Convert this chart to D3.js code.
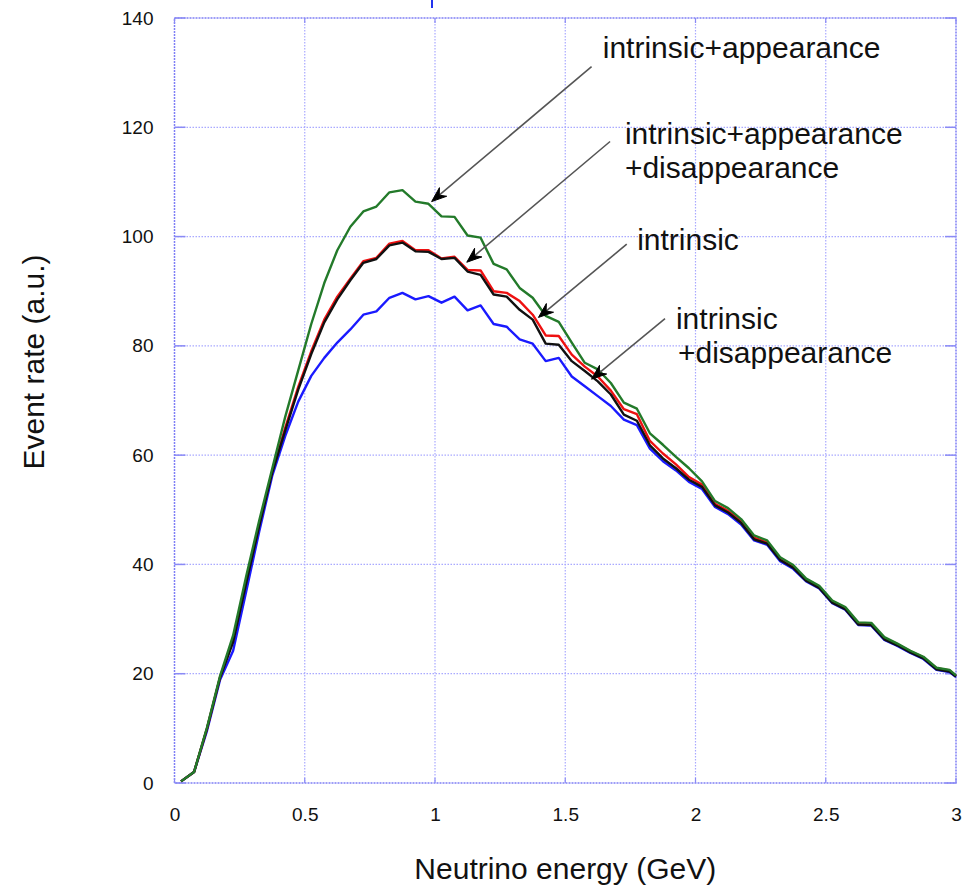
<!DOCTYPE html>
<html><head><meta charset="utf-8">
<script src="https://cdn.jsdelivr.net/npm/d3@7/dist/d3.min.js"></script>
<style>body{margin:0;background:#fff}svg{display:block}text{font-family:"Liberation Sans",Arial,Helvetica,sans-serif}</style>
</head><body><svg id="chart" width="972" height="890"></svg>
<script>
// ---- data ----
const energy = [0.025,0.075,0.125,0.175,0.225,0.275,0.325,0.375,0.425,0.475,
  0.525,0.575,0.625,0.675,0.725,0.775,0.825,0.875,0.925,0.975,
  1.025,1.075,1.125,1.175,1.225,1.275,1.325,1.375,1.425,1.475,
  1.525,1.575,1.625,1.675,1.725,1.775,1.825,1.875,1.925,1.975,
  2.025,2.075,2.125,2.175,2.225,2.275,2.325,2.375,2.425,2.475,
  2.525,2.575,2.625,2.675,2.725,2.775,2.825,2.875,2.925,2.975,3.0];
const intrinsic = [0.3,2.0,10.0,19.3,25.8,36.5,47.0,56.8,64.5,72.0,
  78.5,84.3,88.5,92.0,95.2,95.9,98.4,98.9,97.3,97.2,
  95.9,96.1,93.6,93.0,89.4,89.0,86.6,84.8,80.4,80.2,
  77.2,75.4,73.5,71.1,67.4,66.3,61.8,59.4,57.6,55.5,
  54.2,50.8,49.5,47.6,44.6,43.8,40.8,39.4,37.0,35.7,
  33.0,31.8,29.0,28.9,26.3,25.2,23.9,22.8,20.8,20.4,19.5];
const intrinsicAppearance = [0.3,2.0,10.2,19.6,27.0,37.8,48.0,57.5,67.0,75.5,
  84.0,91.5,97.5,101.8,104.6,105.5,108.1,108.5,106.4,106.0,
  103.7,103.6,100.2,99.8,95.0,94.0,90.6,88.8,85.5,84.4,
  80.6,76.9,75.7,73.2,69.6,68.5,64.0,61.9,59.7,57.6,
  55.2,51.6,50.3,48.3,45.3,44.4,41.3,39.9,37.4,36.1,
  33.4,32.2,29.4,29.3,26.7,25.5,24.2,23.1,21.1,20.7,19.7];
const intrinsicAppDisapp = [0.3,2.0,10.0,19.4,26.2,37.0,47.3,57.0,65.0,72.5,
  79.0,84.8,89.0,92.3,95.5,96.1,98.7,99.2,97.5,97.5,
  96.0,96.3,93.9,93.8,90.0,89.7,88.2,85.7,81.9,81.8,
  78.4,76.2,74.4,71.8,68.4,67.5,62.6,60.3,58.3,56.0,
  54.6,51.1,49.8,47.9,44.9,44.0,41.0,39.6,37.2,35.9,
  33.2,32.0,29.2,29.1,26.5,25.4,24.1,23.0,21.0,20.6,19.6];
const intrinsicDisapp = [0.3,2.0,9.6,18.9,24.2,35.0,46.0,56.2,63.5,69.8,
  74.5,77.8,80.6,83.0,85.7,86.3,88.8,89.7,88.5,89.1,
  87.9,89.0,86.5,87.4,84.0,83.5,81.2,80.4,77.2,77.8,
  74.4,72.6,70.8,69.0,66.5,65.5,61.2,58.9,57.2,55.1,
  53.8,50.5,49.2,47.3,44.4,43.6,40.6,39.2,36.9,35.6,
  32.9,31.7,28.9,28.8,26.2,25.1,23.8,22.7,20.7,20.3,19.4];
const xTicks = [0,0.5,1,1.5,2,2.5,3];
const xTickLabels = ["0","0.5","1","1.5","2","2.5","3"];
const yTicks = [0,20,40,60,80,100,120,140];
const seriesNames = ["intrinsic+disappearance","intrinsic+appearance+disappearance","intrinsic","intrinsic+appearance"];
const seriesValues = [intrinsicDisapp, intrinsicAppDisapp, intrinsic, intrinsicAppearance];
const seriesColors = ["#1a1aff","#ee1111","#111111","#237a2a"];
// annotations: label lines, arrow tail and tip in data units
const annLines = [["intrinsic+appearance"],["intrinsic+appearance","+disappearance"],["intrinsic"],["intrinsic","+disappearance"]];
const annTail = [[1.601,131.1],[1.672,117.4],[1.736,98.6],[1.883,85.0]];
const annTip = [[0.987,106.4],[1.122,95.3],[1.397,85.2],[1.601,73.9]];
const annTextPos = [[1.644,132.6],[1.729,117.0],[1.776,97.6],[1.925,83.0]];

// ---- layout ----
const L = 174.5, R = 956, T = 18, B = 783;
const svg = d3.select("#chart");
const x = d3.scaleLinear().domain([0,3]).range([L,R]);
const y = d3.scaleLinear().domain([0,140]).range([B,T]);
const gridCol = "#a9a9ff";

// grid
const g = svg.append("g");
g.selectAll(".vg").data(xTicks.slice(1,-1)).join("line")
  .attr("x1",d=>x(d)).attr("x2",d=>x(d)).attr("y1",T).attr("y2",B)
  .attr("stroke",gridCol).attr("stroke-width",1.2).attr("stroke-dasharray","1.5,1.5");
g.selectAll(".hg").data(yTicks.slice(1,-1)).join("line")
  .attr("y1",d=>y(d)).attr("y2",d=>y(d)).attr("x1",L).attr("x2",R)
  .attr("stroke",gridCol).attr("stroke-width",1.2).attr("stroke-dasharray","1.5,1.5");
// border
g.append("rect").attr("x",L).attr("y",T).attr("width",R-L).attr("height",B-T)
  .attr("fill","none").attr("stroke","#7f7ff5").attr("stroke-width",1.5).attr("stroke-dasharray","2,1");
// tick marks
g.selectAll(".lt").data(yTicks).join("line").attr("x1",L).attr("x2",L+11).attr("y1",d=>y(d)).attr("y2",d=>y(d)).attr("stroke","#8a8af5").attr("stroke-width",1.5);
g.selectAll(".rt").data(yTicks).join("line").attr("x1",R-11).attr("x2",R).attr("y1",d=>y(d)).attr("y2",d=>y(d)).attr("stroke","#8a8af5").attr("stroke-width",1.5);
g.selectAll(".bt").data(xTicks).join("line").attr("x1",d=>x(d)).attr("x2",d=>x(d)).attr("y1",B).attr("y2",B-5).attr("stroke","#8a8af5").attr("stroke-width",1.2);
g.selectAll(".tt").data(xTicks).join("line").attr("x1",d=>x(d)).attr("x2",d=>x(d)).attr("y1",T).attr("y2",T+5).attr("stroke","#8a8af5").attr("stroke-width",1.2);

// axes labels via d3 axes
const xAxis = d3.axisBottom(x).tickValues(xTicks).tickFormat((d,i)=>xTickLabels[i]).tickSize(0).tickPadding(0);
const xa = svg.append("g").attr("transform",`translate(0,${B+24})`).call(xAxis);
xa.select(".domain").remove();
xa.selectAll("text").attr("font-size",19).attr("fill","#111").attr("dy","0.71em").attr("font-family","Liberation Sans, Arial, sans-serif");
const yAxis = d3.axisLeft(y).tickValues(yTicks).tickSize(0).tickPadding(0);
const ya = svg.append("g").attr("transform",`translate(${L-21},0)`).call(yAxis);
ya.select(".domain").remove();
ya.selectAll("text").attr("font-size",19).attr("fill","#111").attr("font-family","Liberation Sans, Arial, sans-serif");

// titles
svg.append("text").attr("x",(L+R)/2).attr("y",879).attr("text-anchor","middle")
  .attr("font-size",30).attr("fill","#111").text("Neutrino energy (GeV)");
svg.append("text").attr("transform","translate(44,362) rotate(-90)").attr("text-anchor","middle")
  .attr("font-size",30).attr("fill","#111").text("Event rate (a.u.)");

// cut-off title fragment at top
svg.append("line").attr("x1",432).attr("x2",432).attr("y1",0).attr("y2",8).attr("stroke","#2233ee").attr("stroke-width",2);

// curves
const line = d3.line().x((d,i)=>x(energy[i])).y(d=>y(d));
svg.append("g").selectAll("path").data(seriesValues).join("path")
  .attr("d",d=>line(d)).attr("fill","none")
  .attr("stroke",(d,i)=>seriesColors[i]).attr("stroke-width",2.4).attr("stroke-linejoin","round");

// annotations
const ag = svg.append("g");
annTail.forEach((t,i)=>{
  const x1=x(t[0]), y1=y(t[1]), x2=x(annTip[i][0]), y2=y(annTip[i][1]);
  const ang=Math.atan2(y2-y1,x2-x1);
  const len=16, notch=10, spread=0.36;
  ag.append("line").attr("x1",x1).attr("y1",y1).attr("x2",x2-Math.cos(ang)*8).attr("y2",y2-Math.sin(ang)*8)
    .attr("stroke","#555").attr("stroke-width",1.6);
  const p=[[x2,y2],
    [x2-len*Math.cos(ang-spread), y2-len*Math.sin(ang-spread)],
    [x2-notch*Math.cos(ang), y2-notch*Math.sin(ang)],
    [x2-len*Math.cos(ang+spread), y2-len*Math.sin(ang+spread)]];
  ag.append("path").attr("d","M"+p.map(q=>q.join(",")).join("L")+"Z").attr("fill","#000").attr("stroke","#000").attr("stroke-width",1);
  const tp=annTextPos[i];
  annLines[i].forEach((s,j)=>{
    ag.append("text").attr("x",x(tp[0])+(j>0&&i===3?2:0)).attr("y",y(tp[1])+j*34)
      .attr("font-size",30).attr("fill","#111").text(s);
  });
});
</script></body></html>
